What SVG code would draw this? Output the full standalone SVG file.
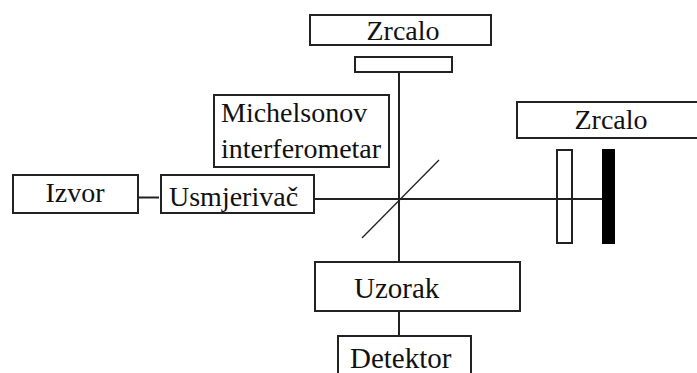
<svg xmlns="http://www.w3.org/2000/svg" width="697" height="373" viewBox="0 0 697 373">
<style>
.b{fill:#fff;stroke:#222;stroke-width:2}
.l{fill:none;stroke:#222;stroke-width:2}
text{font-family:"Liberation Serif","Times New Roman",serif;font-size:28px;fill:#111}
.big{font-size:29px}
</style>
<rect width="697" height="373" fill="#fff"/>
<g id="connectors">
<line class="l" x1="399" y1="72" x2="399" y2="262"/>
<line class="l" x1="399" y1="312" x2="399" y2="335"/>
<line class="l" x1="138" y1="197.500" x2="159" y2="197.500"/>
<line class="l" x1="314" y1="199" x2="603" y2="199"/>
<line x1="362" y1="238" x2="439" y2="160" stroke="#222" stroke-width="1.300"/>
</g>
<g id="mirror-top"><rect class="b" x="310" y="15" width="181" height="30"/><text x="403" y="40" text-anchor="middle">Zrcalo</text></g>
<g id="splitter-top"><rect class="b" x="355" y="57" width="97" height="15"/></g>
<g id="michelson"><rect class="b" x="214" y="95" width="175" height="72"/><text x="221" y="122">Michelsonov</text><text x="221" y="158">interferometar</text></g>
<g id="izvor"><rect class="b" x="13" y="175" width="125" height="38"/><text x="75" y="202" text-anchor="middle">Izvor</text></g>
<g id="usmjerivac"><rect class="b" x="161" y="175" width="153" height="38"/><text x="169" y="206">Usmjerivač</text></g>
<g id="mirror-right"><rect class="b" x="517" y="102" width="181" height="36"/><text x="611" y="129" text-anchor="middle">Zrcalo</text></g>
<g id="plate"><rect x="557" y="150" width="15" height="93" fill="none" stroke="#222" stroke-width="2"/></g>
<g id="black-mirror"><rect x="602" y="149" width="13" height="95" fill="#000"/></g>
<g id="uzorak"><rect class="b" x="315" y="262" width="205" height="49"/><text class="big" x="354" y="298">Uzorak</text></g>
<g id="detektor"><rect class="b" x="338" y="336" width="133" height="40"/><text class="big" x="350" y="368">Detektor</text></g>
</svg>
